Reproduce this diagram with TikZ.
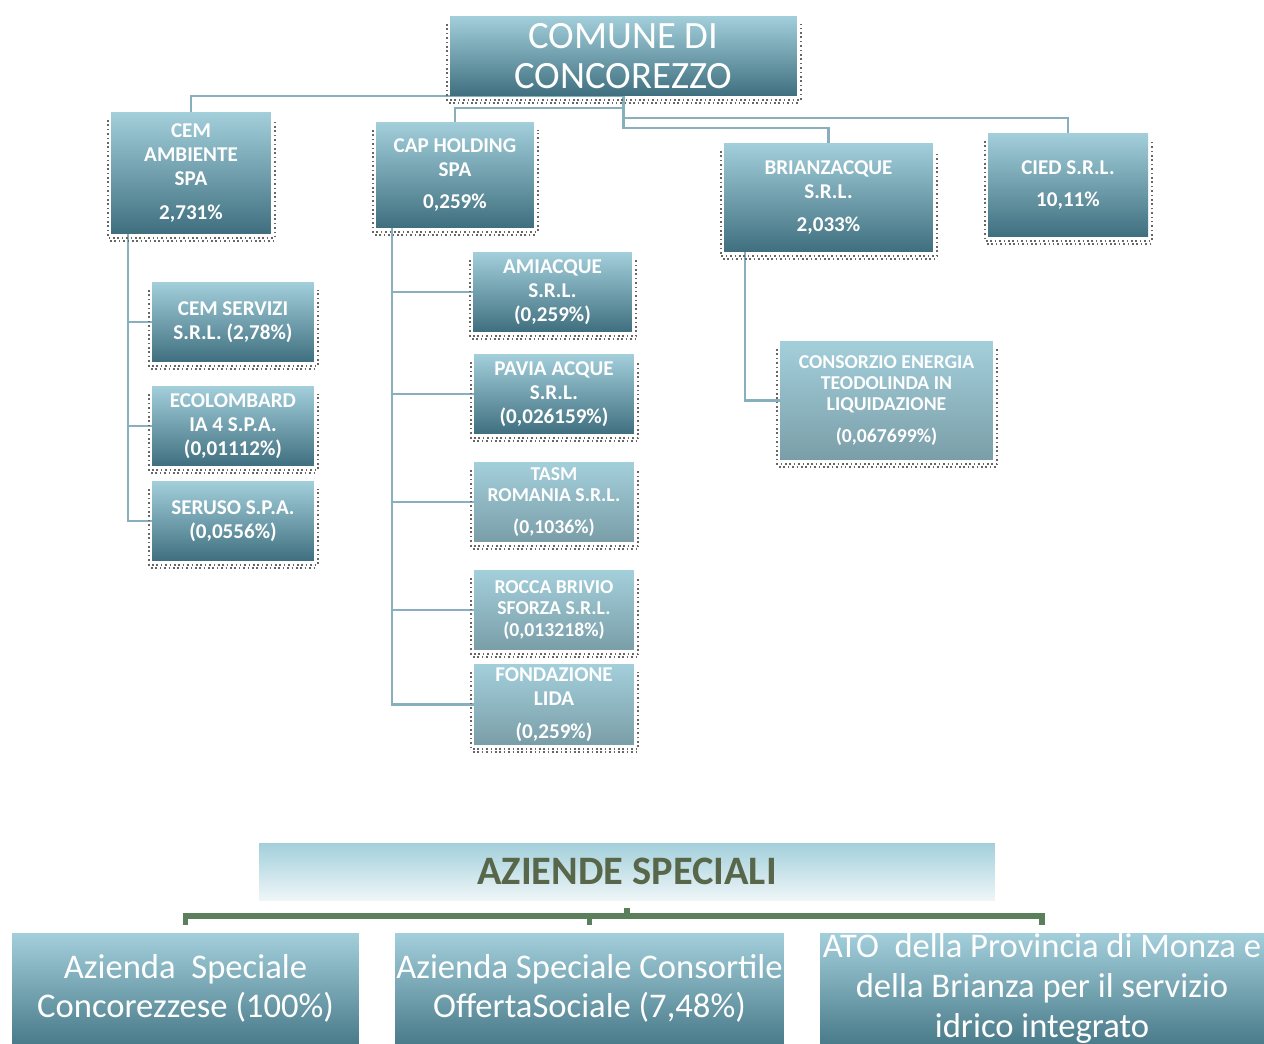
\documentclass[tikz,border=0pt]{standalone}
\usepackage{fontspec}
\setmainfont{Carlito}
\pgfdeclarelayer{bg}
\pgfsetlayers{bg,main}
\definecolor{gtop}{HTML}{A3CFDB}
\definecolor{gbot}{HTML}{3F6F7F}
\definecolor{gbotl}{HTML}{7A9EA8}
\definecolor{conncol}{HTML}{88B0BC}
\definecolor{brk}{HTML}{5B7F5A}
\definecolor{aztext}{HTML}{58674A}
\definecolor{azbot}{HTML}{EEF6F8}
\definecolor{lowbot}{HTML}{4A7B8A}
\tikzset{
  boxbase/.style={draw=none, inner sep=0pt, top color=gtop, bottom color=gbot, text=white, align=center},
  lightbox/.style={bottom color=gbotl},
  tbig/.style={font=\fontsize{22}{22.8}\selectfont},
  tbold/.style={font=\bfseries\fontsize{12}{13.6}\selectfont},
  tsmall/.style={font=\bfseries\fontsize{11.2}{12}\selectfont},
  tlow/.style={font=\fontsize{19.7}{22.6}\selectfont},
  shadowdots/.style={line width=0.9pt, dash pattern=on 0.9pt off 1.6pt, black!60},
  conn/.style={draw=conncol, line width=1.2pt},
  bracket/.style={draw=brk, line width=3.4pt},
}
\newcommand\orgbox[7][]{%
  \draw[shadowdots] (#3-3,#4+8) -- (#3-3,#6+4) -- (#5+4,#6+4) -- (#5+4,#4+8);
  \draw[shadowdots] (#3-1,#6+7) -- (#5+3,#6+7);
  \node[boxbase,#1,minimum width={(#5-#3)*0.56906pt},minimum height={(#6-#4)*0.56906pt}] (#2) at ({(#3+#5)/2},{(#4+#6)/2}) {#7};
}
\newcommand\lowbox[7][]{%
  \node[boxbase,#1,minimum width={(#5-#3)*0.56906pt},minimum height={(#6-#4)*0.56906pt}] (#2) at ({(#3+#5)/2},{(#4+#6)/2}) {#7};
}
\begin{document}
\begin{tikzpicture}[x=0.02cm,y=-0.02cm]
\useasboundingbox (0,0) rectangle (1264,1044);
% top level
\orgbox[tbig]{comune}{450}{16}{797}{96}{COMUNE DI\\CONCOREZZO}
\orgbox[tbold]{cem}{111}{112}{271}{234}{CEM\\AMBIENTE\\SPA\\[5.5pt]2,731\%}
\orgbox[tbold]{cap}{376}{122}{534}{228}{CAP HOLDING\\SPA\\[5pt]0,259\%}
\orgbox[tbold]{brianz}{724}{143}{933}{252}{BRIANZACQUE\\S.R.L.\\[5pt]2,033\%}
\orgbox[tbold]{cied}{988}{133}{1148}{237}{CIED S.R.L.\\[5pt]10,11\%}
% CEM children
\orgbox[tbold]{cemserv}{152}{282}{314}{362}{CEM SERVIZI\\S.R.L. (2,78\%)}
\orgbox[tbold]{ecol}{152}{386}{314}{466}{ECOLOMBARD\\IA 4 S.P.A.\\(0,01112\%)}
\orgbox[tbold]{seruso}{152}{481}{314}{561}{SERUSO S.P.A.\\(0,0556\%)}
% CAP children
\orgbox[tbold]{amia}{473}{252}{632}{332}{AMIACQUE\\S.R.L.\\(0,259\%)}
\orgbox[tbold]{pavia}{474}{354}{634}{434}{PAVIA ACQUE\\S.R.L.\\(0,026159\%)}
\orgbox[tsmall,lightbox]{tasm}{474}{462}{634}{542}{TASM\\ROMANIA S.R.L.\\[6pt](0,1036\%)}
\orgbox[tsmall,lightbox]{rocca}{474}{570}{634}{650}{ROCCA BRIVIO\\SFORZA S.R.L.\\(0,013218\%)}
\orgbox[tbold,lightbox]{fond}{474}{664}{634}{745}{FONDAZIONE\\LIDA\\[5pt](0,259\%)}
% Brianzacque child
\orgbox[tsmall,lightbox]{cons}{780}{341}{993}{460}{CONSORZIO ENERGIA\\TEODOLINDA IN\\LIQUIDAZIONE\\[6pt](0,067699\%)}
% connectors
\begin{pgfonlayer}{bg}
\draw[conn] (cem.north) |- (comune.south);
\draw[conn] (comune.south) -- (comune.south |- 0,108) -| (cap.north);
\draw[conn] (comune.south) -- (comune.south |- 0,128) -| (brianz.north);
\draw[conn] (comune.south |- 0,118) -| (cied.north);
\draw[conn] (cem.south -| 128,0) |- (cemserv.west);
\draw[conn] (cem.south -| 128,0) |- (ecol.west);
\draw[conn] (cem.south -| 128,0) |- (seruso.west);
\draw[conn] (cap.south -| 392,0) |- (amia.west);
\draw[conn] (cap.south -| 392,0) |- (pavia.west);
\draw[conn] (cap.south -| 392,0) |- (tasm.west);
\draw[conn] (cap.south -| 392,0) |- (rocca.west);
\draw[conn] (cap.south -| 392,0) |- (fond.west);
\draw[conn] (brianz.south -| 745,0) |- (cons.west);
\end{pgfonlayer}
% aziende speciali
\node[boxbase, top color=gtop, bottom color=azbot, text=aztext, font=\bfseries\fontsize{23}{24}\selectfont,
  minimum width={736*0.56906pt}, minimum height={57*0.56906pt}] (az) at (627,871.5) {AZIENDE SPECIALI};
\lowbox[tlow,bottom color=lowbot]{asc}{12}{933}{359}{1044}{Azienda\ \ Speciale\\Concorezzese (100\%)}
\lowbox[tlow,bottom color=lowbot]{ascons}{395}{933}{784}{1044}{Azienda Speciale Consortile\\OffertaSociale (7,48\%)}
\lowbox[tlow,bottom color=lowbot]{ato}{820}{933}{1264}{1044}{ATO\ \ della Provincia di Monza e\\della Brianza per il servizio\\idrico integrato}
\coordinate (bj) at (627,916);
\draw[bracket, shorten <=4.5pt] (az.south) -- (bj);
\draw[bracket, shorten >=4.5pt] (bj) -| (asc.north);
\draw[bracket, shorten >=4.5pt] (bj) -| (ascons.north);
\draw[bracket, shorten >=4.5pt] (bj) -| (ato.north);
\end{tikzpicture}
\end{document}
